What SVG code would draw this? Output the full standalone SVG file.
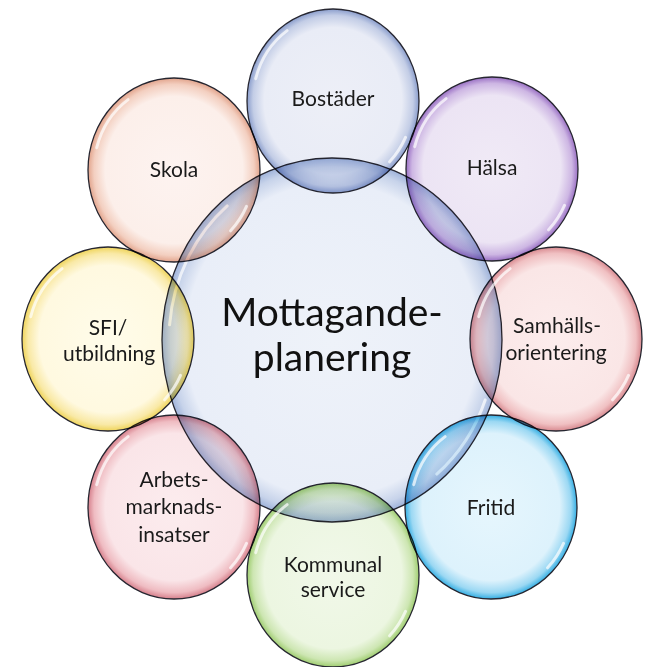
<svg xmlns="http://www.w3.org/2000/svg" xmlns:xlink="http://www.w3.org/1999/xlink" width="645" height="667" viewBox="0 0 645 667">
<style>
  .b { mix-blend-mode: multiply; stroke: #262630; stroke-width: 1.3; }
  .hl { fill: none; stroke: #ffffff; stroke-opacity: 0.7; stroke-width: 3; stroke-linecap: round; }
  .t { font-family: Lato, "Open Sans", "Liberation Sans", sans-serif; font-size: 21px; fill: #1a1a1a; text-anchor: middle; }
  .tc { font-family: Lato, "Open Sans", "Liberation Sans", sans-serif; font-size: 39px; fill: #111; text-anchor: middle; }
</style>
<defs>
  <radialGradient id="gBos" cx="0.5" cy="0.5" r="0.5"><stop offset="0" stop-color="#edeff7"/><stop offset="0.8" stop-color="#e9ecf6"/><stop offset="0.93" stop-color="#c3cde6"/><stop offset="1" stop-color="#8a9dcc"/></radialGradient>
  <radialGradient id="gHal" cx="0.5" cy="0.5" r="0.5"><stop offset="0" stop-color="#f0eaf6"/><stop offset="0.8" stop-color="#ece4f4"/><stop offset="0.93" stop-color="#cdb6e3"/><stop offset="1" stop-color="#9a70c4"/></radialGradient>
  <radialGradient id="gSam" cx="0.5" cy="0.5" r="0.5"><stop offset="0" stop-color="#fcecec"/><stop offset="0.8" stop-color="#fae6e6"/><stop offset="0.93" stop-color="#f0c0c2"/><stop offset="1" stop-color="#d88a90"/></radialGradient>
  <radialGradient id="gFri" cx="0.5" cy="0.5" r="0.5"><stop offset="0" stop-color="#e6f6fd"/><stop offset="0.8" stop-color="#ddf2fc"/><stop offset="0.93" stop-color="#9bd8f3"/><stop offset="1" stop-color="#34aee3"/></radialGradient>
  <radialGradient id="gKom" cx="0.5" cy="0.5" r="0.5"><stop offset="0" stop-color="#f1f8e9"/><stop offset="0.8" stop-color="#ecf6e1"/><stop offset="0.93" stop-color="#cde6b2"/><stop offset="1" stop-color="#9fcd70"/></radialGradient>
  <radialGradient id="gArb" cx="0.5" cy="0.5" r="0.5"><stop offset="0" stop-color="#fcecee"/><stop offset="0.8" stop-color="#fae5e8"/><stop offset="0.93" stop-color="#efbcc2"/><stop offset="1" stop-color="#d6808c"/></radialGradient>
  <radialGradient id="gSfi" cx="0.5" cy="0.5" r="0.5"><stop offset="0" stop-color="#fffcea"/><stop offset="0.8" stop-color="#fff9e0"/><stop offset="0.93" stop-color="#f9e9a6"/><stop offset="1" stop-color="#efd45a"/></radialGradient>
  <radialGradient id="gSko" cx="0.5" cy="0.5" r="0.5"><stop offset="0" stop-color="#fdf3f0"/><stop offset="0.8" stop-color="#fcefea"/><stop offset="0.93" stop-color="#f3cfc0"/><stop offset="1" stop-color="#e2a48c"/></radialGradient>
  <radialGradient id="gCen" cx="0.5" cy="0.5" r="0.5"><stop offset="0" stop-color="#eef2f9"/><stop offset="0.86" stop-color="#e9eef8"/><stop offset="0.95" stop-color="#c7d3ea"/><stop offset="1" stop-color="#9fb3da"/></radialGradient>
  <path id="hlS" d="M -77.3 -22.3 A 80 86 0 0 1 -45.9 -70.4 M 72.5 36.4 A 80 86 0 0 1 56.6 60.8"/>
  <path id="hlC" d="M -162.4 -15.2 A 163 175 0 0 1 -104.8 -134.1 M 153.2 59.9 A 163 175 0 0 1 104.8 134.1"/>
</defs>
<rect width="645" height="667" fill="#ffffff"/>

<g id="center" transform="translate(332,340)">
  <ellipse class="b" rx="170" ry="182" fill="url(#gCen)"/>
  <use xlink:href="#hlC" class="hl"/>
  <text class="tc" x="0" y="-14">Mottagande-</text>
  <text class="tc" x="0" y="31">planering</text>
</g>

<g id="bostader" transform="translate(333,101)">
  <ellipse class="b" rx="86" ry="92" fill="url(#gBos)"/>
  <use xlink:href="#hlS" class="hl"/>
  <text class="t" x="0" y="5">Bostäder</text>
</g>

<g id="halsa" transform="translate(492,169)">
  <ellipse class="b" rx="86" ry="92" fill="url(#gHal)"/>
  <use xlink:href="#hlS" class="hl"/>
  <text class="t" x="0" y="6">Hälsa</text>
</g>

<g id="samhallsorientering" transform="translate(556,339)">
  <ellipse class="b" rx="86" ry="92" fill="url(#gSam)"/>
  <use xlink:href="#hlS" class="hl"/>
  <text class="t" x="1" y="-6">Samhälls-</text>
  <text class="t" x="0" y="21">orientering</text>
</g>

<g id="fritid" transform="translate(491,507)">
  <ellipse class="b" rx="86" ry="92" fill="url(#gFri)"/>
  <use xlink:href="#hlS" class="hl"/>
  <text class="t" x="0" y="8">Fritid</text>
</g>

<g id="kommunal-service" transform="translate(333,575)">
  <ellipse class="b" rx="86" ry="92" fill="url(#gKom)"/>
  <use xlink:href="#hlS" class="hl"/>
  <text class="t" x="0" y="-3">Kommunal</text>
  <text class="t" x="0" y="22">service</text>
</g>

<g id="arbetsmarknadsinsatser" transform="translate(174,507)">
  <ellipse class="b" rx="86" ry="92" fill="url(#gArb)"/>
  <use xlink:href="#hlS" class="hl"/>
  <text class="t" x="0" y="-20">Arbets-</text>
  <text class="t" x="0" y="7">marknads-</text>
  <text class="t" x="0" y="35">insatser</text>
</g>

<g id="sfi-utbildning" transform="translate(108,339)">
  <ellipse class="b" rx="86" ry="92" fill="url(#gSfi)"/>
  <use xlink:href="#hlS" class="hl"/>
  <text class="t" x="0" y="-4">SFI/</text>
  <text class="t" x="1" y="22">utbildning</text>
</g>

<g id="skola" transform="translate(174,170)">
  <ellipse class="b" rx="86" ry="92" fill="url(#gSko)"/>
  <use xlink:href="#hlS" class="hl"/>
  <text class="t" x="0" y="7">Skola</text>
</g>
</svg>
